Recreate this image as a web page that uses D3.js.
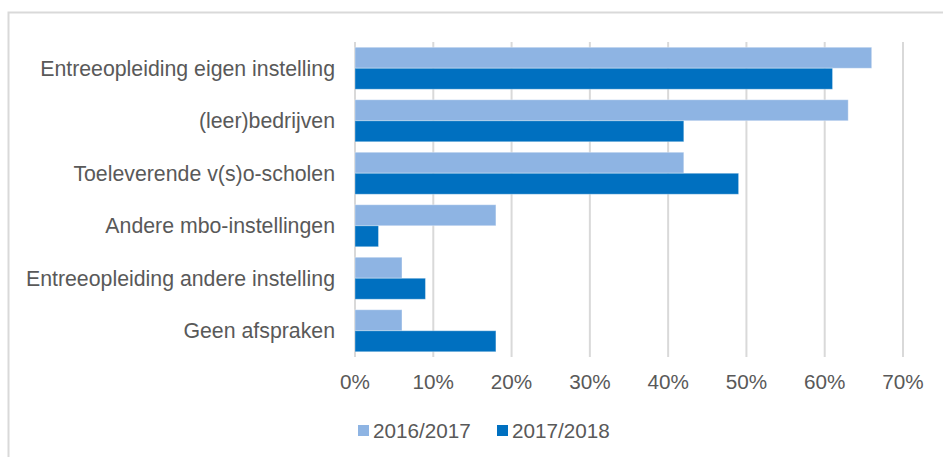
<!DOCTYPE html>
<html>
<head>
<meta charset="utf-8">
<script src="https://cdn.jsdelivr.net/npm/d3@7"></script>
<style>
  body { margin: 0; background: #fff; }
  svg { display: block; font-family: "Liberation Sans", Arial, sans-serif; }
</style>
</head>
<body>
<svg id="chart" width="943" height="457"></svg>
<script>
var categories = [
  'Entreeopleiding eigen instelling',
  '(leer)bedrijven',
  'Toeleverende v(s)o-scholen',
  'Andere mbo-instellingen',
  'Entreeopleiding andere instelling',
  'Geen afspraken'
];
var series = ['2016/2017', '2017/2018'];
var values2016 = [66, 63, 42, 18, 6, 6];
var values2017 = [61, 42, 49, 3, 9, 18];
var ticks = [0, 10, 20, 30, 40, 50, 60, 70];
var colors = ['#8eb4e3', '#0070c0'];

var svg = d3.select('#chart');

// outer chart border
svg.append('rect')
  .attr('x', 8.5).attr('y', 12.5)
  .attr('width', 960).attr('height', 470)
  .attr('fill', 'none')
  .attr('stroke', '#d9d9d9')
  .attr('stroke-width', 2);

var x = d3.scaleLinear().domain([0, 70]).range([355, 903]);
var y = d3.scaleBand().domain(categories).range([42, 357]).paddingInner(0.2).paddingOuter(0.1);
var sub = d3.scaleBand().domain(series).range([0, y.bandwidth()]);

// gridlines
svg.append('g').selectAll('line')
  .data(ticks)
  .enter().append('line')
  .attr('x1', d => x(d)).attr('x2', d => x(d))
  .attr('y1', 42).attr('y2', 357)
  .attr('stroke', '#d9d9d9')
  .attr('stroke-width', 2);

var rows = categories.map((c, i) => ({cat: c, vals: [values2016[i], values2017[i]]}));

var groups = svg.append('g').selectAll('g')
  .data(rows)
  .enter().append('g')
  .attr('transform', d => 'translate(0,' + y(d.cat) + ')');

groups.selectAll('rect')
  .data(d => d.vals.map((v, j) => ({s: series[j], v: v, j: j})))
  .enter().append('rect')
  .attr('x', x(0))
  .attr('y', d => sub(d.s))
  .attr('width', d => x(d.v) - x(0))
  .attr('height', sub.bandwidth())
  .attr('fill', d => colors[d.j])
  .attr('stroke', '#ffffff')
  .attr('stroke-opacity', 0.35)
  .attr('stroke-width', 1);

// category labels
svg.append('g').selectAll('text')
  .data(categories)
  .enter().append('text')
  .attr('x', 335)
  .attr('y', d => y(d) + y.bandwidth() / 2)
  .attr('dy', '0.35em')
  .attr('text-anchor', 'end')
  .attr('font-size', 21.3)
  .attr('fill', '#595959')
  .text(d => d);

// x axis tick labels
svg.append('g').selectAll('text')
  .data(ticks)
  .enter().append('text')
  .attr('x', d => x(d))
  .attr('y', 382)
  .attr('dy', '0.35em')
  .attr('text-anchor', 'middle')
  .attr('font-size', 20.7)
  .attr('fill', '#595959')
  .text(d => d + '%');

// legend
var legendX = [358, 497];
var legend = svg.append('g').selectAll('g')
  .data(series)
  .enter().append('g')
  .attr('transform', (d, i) => 'translate(' + legendX[i] + ',425)');

legend.append('rect')
  .attr('width', 11).attr('height', 11)
  .attr('fill', (d, i) => colors[i]);

legend.append('text')
  .attr('x', 15)
  .attr('y', 5.5)
  .attr('dy', '0.35em')
  .attr('font-size', 20.7)
  .attr('fill', '#595959')
  .text(d => d);
</script>
</body>
</html>
